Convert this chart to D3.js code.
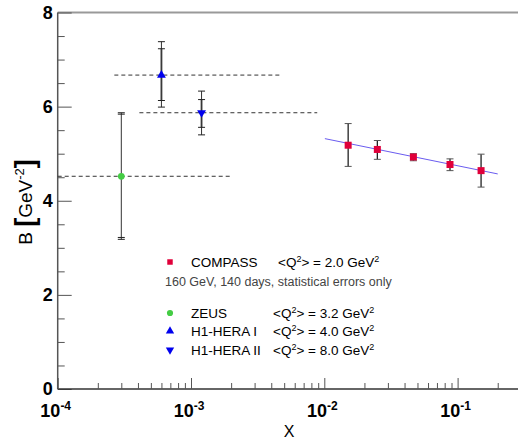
<!DOCTYPE html>
<html>
<head>
<meta charset="utf-8">
<script src="https://cdn.jsdelivr.net/npm/d3@7"></script>
<style>
  body { margin: 0; background: #fff; }
  svg { display: block; font-family: "Liberation Sans", Arial, sans-serif; }
</style>
</head>
<body>
<div id="chart"></div>
<script>
// COMPASS points
const compassX = [0.0151, 0.025, 0.0466, 0.0877, 0.15]
const compassB = [5.18, 5.09, 4.93, 4.77, 4.64]
const compassHi = [5.64, 5.28, 5.00, 4.89, 4.99]
const compassLo = [4.73, 4.88, 4.85, 4.64, 4.29]

// fit line through COMPASS
const fitX = [0.0101, 0.2]
const fitB = [5.32, 4.57]

// HERA points: x, B, stat range, total range, x bin range
const heraNames = ['ZEUS', 'H1-HERA I', 'H1-HERA II']
const heraX = [3.0e-4, 6.0e-4, 1.2e-3]
const heraB = [4.52, 6.67, 5.87]
const heraStatLo = [3.22, 6.13, 5.56]
const heraStatHi = [5.84, 7.23, 6.15]
const heraTotLo = [3.18, 5.99, 5.40]
const heraTotHi = [5.87, 7.38, 6.33]
const heraBinLo = [1.0e-4, 2.66e-4, 4.1e-4]
const heraBinHi = [2.0e-3, 4.66e-3, 8.85e-3]

const yTicks = [0, 2, 4, 6, 8]
const xDecades = [-4, -3, -2, -1]

const width = 518, height = 439
const m = { left: 57.7, top: 12.5, bottom: 389 }

const svg = d3.select('#chart').append('svg')
  .attr('width', width)
  .attr('height', height)

const x = d3.scaleLog()
  .domain([1e-4, 0.35])
  .range([m.left, m.left + 133.3 * Math.log10(3500)])

const y = d3.scaleLinear()
  .domain([0, 8])
  .range([m.bottom, m.top])

const axisColor = '#555'

// frame: left and top
svg.append('line')
  .attr('x1', m.left).attr('x2', width)
  .attr('y1', m.top).attr('y2', m.top)
  .attr('stroke', '#999').attr('stroke-width', 2)
svg.append('line')
  .attr('x1', m.left).attr('x2', m.left)
  .attr('y1', m.top).attr('y2', m.bottom)
  .attr('stroke', axisColor).attr('stroke-width', 1.5)

// y axis ticks
const yMinor = d3.range(0, 8.01, 0.5).filter(v => v % 2 !== 0)
const yAxisMajor = svg.append('g')
  .attr('transform', `translate(${m.left},0)`)
  .call(d3.axisRight(y).tickValues(yTicks).tickSize(14).tickFormat(''))
const yAxisMinor = svg.append('g')
  .attr('transform', `translate(${m.left},0)`)
  .call(d3.axisRight(y).tickValues(yMinor).tickSize(7).tickFormat(''))
;[yAxisMajor, yAxisMinor].forEach(g => {
  g.select('.domain').remove()
  g.selectAll('line').attr('stroke', axisColor)
})

svg.selectAll('.ylab')
  .data(yTicks)
  .enter()
  .append('text')
  .attr('class', 'ylab')
  .attr('x', m.left - 5)
  .attr('y', d => y(d) + 6)
  .attr('text-anchor', 'end')
  .attr('font-size', 18)
  .attr('font-weight', 'bold')
  .text(d => d)

// x axis
svg.append('line')
  .attr('x1', m.left).attr('x2', width)
  .attr('y1', m.bottom).attr('y2', m.bottom)
  .attr('stroke', '#333').attr('stroke-width', 1.5)

const xMajor = xDecades.map(e => Math.pow(10, e))
const xMinor = []
xDecades.forEach(e => {
  for (let k = 2; k <= 9; k++) xMinor.push(k * Math.pow(10, e))
})
const xAxisMajor = svg.append('g')
  .attr('transform', `translate(0,${m.bottom})`)
  .call(d3.axisTop(x).tickValues(xMajor).tickSize(11).tickFormat(''))
const xAxisMinor = svg.append('g')
  .attr('transform', `translate(0,${m.bottom})`)
  .call(d3.axisTop(x).tickValues(xMinor).tickSize(6).tickFormat(''))
;[xAxisMajor, xAxisMinor].forEach(g => {
  g.select('.domain').remove()
  g.selectAll('line').attr('stroke', axisColor)
})

const xlab = svg.selectAll('.xlab')
  .data(xDecades)
  .enter()
  .append('text')
  .attr('class', 'xlab')
  .attr('x', d => x(Math.pow(10, d)) - 2)
  .attr('y', 417)
  .attr('text-anchor', 'middle')
  .attr('font-size', 18)
  .attr('font-weight', 'bold')
xlab.append('tspan').text('10')
xlab.append('tspan')
  .attr('dy', -7)
  .attr('font-size', 12)
  .text(d => d)

svg.append('text')
  .attr('x', 289)
  .attr('y', 437)
  .attr('text-anchor', 'middle')
  .attr('font-size', 16)
  .text('X')

// y title
const ytitle = svg.append('text')
  .attr('transform', 'translate(32,202) rotate(-90)')
  .attr('text-anchor', 'middle')
  .attr('font-size', 19)
ytitle.append('tspan').text('B ')
ytitle.append('tspan').attr('font-size', 27).attr('font-weight', 'bold').attr('dy', 2).text('[')
ytitle.append('tspan').attr('dy', -2).text('GeV')
ytitle.append('tspan').attr('dy', -8).attr('font-size', 13).text('-2')
ytitle.append('tspan').attr('dy', 10).attr('font-size', 27).attr('font-weight', 'bold').text(']')

// HERA bins (dashed)
const hera = heraNames.map((n, i) => ({
  name: n, x: heraX[i], b: heraB[i],
  sLo: heraStatLo[i], sHi: heraStatHi[i],
  tLo: heraTotLo[i], tHi: heraTotHi[i],
  xLo: heraBinLo[i], xHi: heraBinHi[i]
}))

svg.selectAll('.bin')
  .data(hera)
  .enter()
  .append('line')
  .attr('x1', d => x(d.xLo))
  .attr('x2', d => x(d.xHi))
  .attr('y1', d => y(d.b))
  .attr('y2', d => y(d.b))
  .attr('stroke', '#333')
  .attr('stroke-dasharray', '4 3')

// HERA error bars
hera.forEach((d, i) => {
  const cx = x(d.x)
  if (i > 0) {
    svg.append('line')
      .attr('x1', cx).attr('x2', cx)
      .attr('y1', y(d.sLo)).attr('y2', y(d.sHi))
      .attr('stroke', '#999').attr('stroke-width', 2.5)
  }
  svg.append('line')
    .attr('x1', cx).attr('x2', cx)
    .attr('y1', y(d.tLo)).attr('y2', y(d.tHi))
    .attr('stroke', '#333').attr('stroke-width', 1)
  ;[d.sLo, d.sHi, d.tLo, d.tHi].forEach(v => {
    svg.append('line')
      .attr('x1', cx - 3.5).attr('x2', cx + 3.5)
      .attr('y1', y(v)).attr('y2', y(v))
      .attr('stroke', '#222')
  })
})

// fit line
svg.append('line')
  .attr('x1', x(fitX[0])).attr('x2', x(fitX[1]))
  .attr('y1', y(fitB[0])).attr('y2', y(fitB[1]))
  .attr('stroke', '#6a5cf0').attr('stroke-width', 1)

// COMPASS error bars and markers
const compass = compassX.map((v, i) => ({ x: v, b: compassB[i], lo: compassLo[i], hi: compassHi[i] }))
compass.forEach(d => {
  const cx = x(d.x)
  svg.append('line')
    .attr('x1', cx).attr('x2', cx)
    .attr('y1', y(d.lo)).attr('y2', y(d.hi))
    .attr('stroke', '#222').attr('stroke-width', 1.3)
  ;[d.lo, d.hi].forEach(v => {
    svg.append('line')
      .attr('x1', cx - 3.5).attr('x2', cx + 3.5)
      .attr('y1', y(v)).attr('y2', y(v))
      .attr('stroke', '#555')
  })
})
svg.selectAll('.cmp')
  .data(compass)
  .enter()
  .append('rect')
  .attr('x', d => x(d.x) - 3.5)
  .attr('y', d => y(d.b) - 3.5)
  .attr('width', 7)
  .attr('height', 7)
  .attr('fill', '#e0003a')

// HERA markers
const heraColors = ['#44cc44', '#0000ee', '#0000ee']
const heraShapes = [d3.symbolCircle, d3.symbolTriangle, d3.symbolTriangle]
const heraRot = [0, 0, 180]
hera.forEach((d, i) => {
  svg.append('path')
    .attr('d', d3.symbol(heraShapes[i], i === 0 ? 36 : 34)())
    .attr('transform', `translate(${x(d.x)},${y(d.b)}) rotate(${heraRot[i]})`)
    .attr('fill', heraColors[i])
})

// legend
const legRows = [
  { name: 'COMPASS', q: '2.0', y: 262, color: '#e0003a' },
  { name: 'ZEUS', q: '3.2', y: 313, color: '#44cc44' },
  { name: 'H1-HERA I', q: '4.0', y: 331, color: '#0000ee' },
  { name: 'H1-HERA II', q: '8.0', y: 350, color: '#0000ee' }
]
legRows.forEach((r, i) => {
  const mk = i === 0
    ? d3.symbol(d3.symbolSquare, 30)()
    : d3.symbol(i === 1 ? d3.symbolCircle : d3.symbolTriangle, 30)()
  svg.append('path')
    .attr('d', mk)
    .attr('transform', `translate(170,${r.y}) rotate(${i === 3 ? 180 : 0})`)
    .attr('fill', r.color)
  svg.append('text')
    .attr('x', 191)
    .attr('y', r.y + 5)
    .attr('font-size', 13.5)
    .text(r.name)
  const q = svg.append('text')
    .attr('x', i === 0 ? 278 : 273)
    .attr('y', r.y + 5)
    .attr('font-size', 13.5)
  q.append('tspan').text('<Q')
  q.append('tspan').attr('dy', -5).attr('font-size', 9).text('2')
  q.append('tspan').attr('dy', 5).text(`> = ${r.q} GeV`)
  q.append('tspan').attr('dy', -5).attr('font-size', 9).text('2')
})
svg.append('text')
  .attr('x', 165)
  .attr('y', 286)
  .attr('font-size', 12.5)
  .attr('fill', '#444')
  .text('160 GeV, 140 days, statistical errors only')
</script>
</body>
</html>
